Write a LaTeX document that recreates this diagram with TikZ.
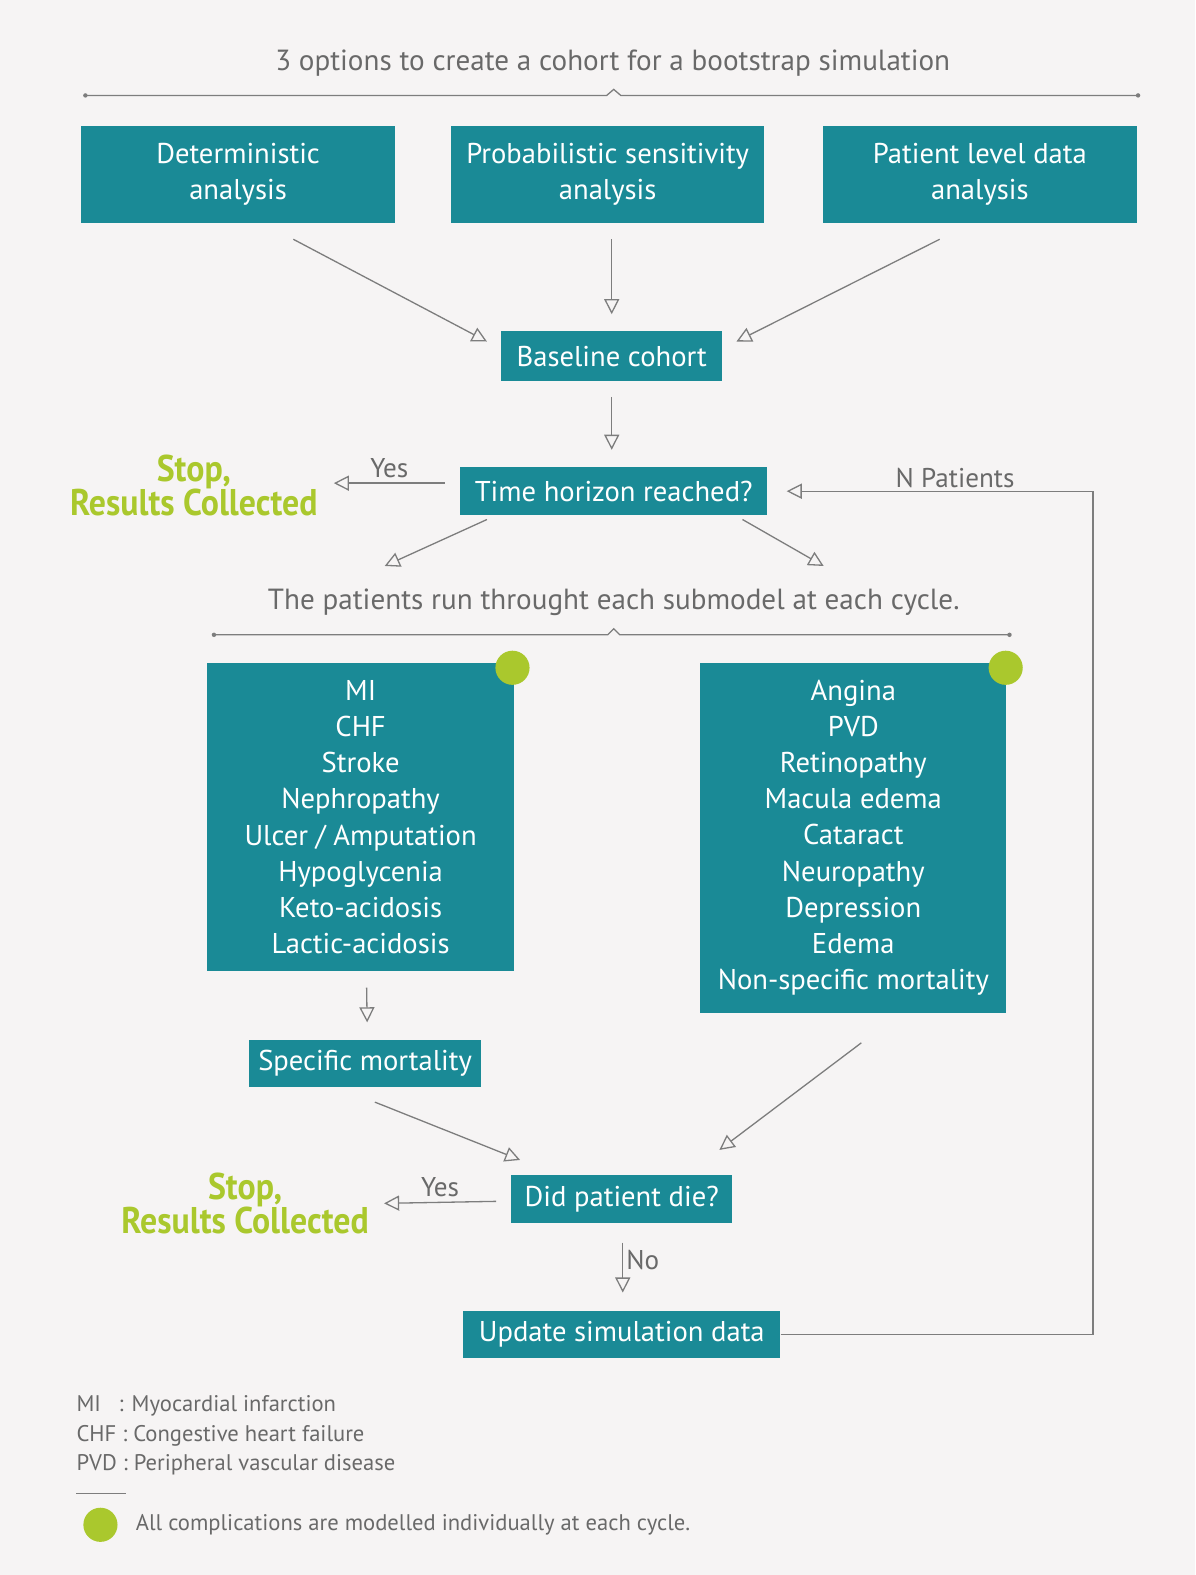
\documentclass[tikz,border=0pt]{standalone}
\usepackage{fontspec}
\setmainfont{PT Sans}
\usetikzlibrary{arrows.meta,calc}
\definecolor{tealbox}{RGB}{26,138,150}
\definecolor{lime}{RGB}{170,200,45}
\definecolor{bgc}{RGB}{246,244,244}
\definecolor{txtgray}{RGB}{105,105,105}
\definecolor{linegray}{RGB}{125,125,125}
\begin{document}
\begin{tikzpicture}[x=1pt,y=-1pt,
  box/.style={fill=tealbox, text=white, font=\fontsize{28.5}{36}\selectfont, align=center, inner sep=0pt},
  arr/.style={draw=linegray, line width=1.3pt, -{Triangle[open,length=15pt,width=15pt,line width=1.3pt]}},
  plain/.style={draw=linegray, line width=1.3pt},
  gtext/.style={text=txtgray, font=\fontsize{29}{32}\selectfont, inner sep=0pt},
  lbl/.style={text=txtgray, font=\fontsize{27}{30}\selectfont, inner sep=0pt},
  stoptext/.style={text=lime, font=\fontsize{37}{37}\selectfont\bfseries, align=center, inner sep=0pt},
  legend/.style={text=txtgray, font=\fontsize{22.5}{26}\selectfont, anchor=west, inner sep=0pt},
  dot/.style={fill=lime, draw=none}]
\useasboundingbox (0,0) rectangle (1190,1568);
\fill[bgc] (0,0) rectangle (1190,1568);

% title and brace
\node[gtext] (title) at (610,63) {3 options to create a cohort for a bootstrap simulation};
\draw[plain] (85,95) -- (604,95) -- (611,89) -- (618,95) -- (1133,95);
\fill[linegray] (85,95) circle (2.2) (1133,95) circle (2.2);

% top boxes
\node[box, minimum width=312, minimum height=97] (det) at (237,173.5) {Deterministic\\analysis};
\node[box, minimum width=312, minimum height=97] (prob) at (605,173.5) {Probabilistic sensitivity\\analysis};
\node[box, minimum width=313, minimum height=97] (pat) at (975.5,173.5) {Patient level data\\analysis};

\node[box, minimum width=220, minimum height=49] (base) at (609,354.5) {Baseline cohort};

\draw[arr] ($(det.south)+(55,16)$) -- ($(base.west)+(-14,-14.5)$);
\draw[arr] ($(prob.south)+(4,16)$) -- ($(base.north)+(0,-17)$);
\draw[arr] ($(pat.south)+(-40,16)$) -- ($(base.east)+(14,-14.5)$);

\node[box, minimum width=306, minimum height=48] (time) at (611,489) {Time horizon reached?};
\draw[arr] ($(base.south)+(0,16)$) -- ($(time.north)+(-2,-17)$);

\node[stoptext] (stop1) at (193,483) {\scalebox{0.91}[1]{Stop,}\\[-3pt]\scalebox{0.91}[1]{Results Collected}};
\draw[arr] ($(time.west)+(-15,-8)$) -- node[lbl, above=5pt] (yes1) {Yes} ($(stop1.east)+(16,-2)$);

% submodel text and brace
\node[gtext] (sub) at (611,600) {The patients run throught each submodel at each cycle.};
\draw[arr] ($(time.south west)+(27,4)$) -- ($(sub.north)+(-228,-23)$);
\draw[arr] ($(time.south east)+(-25,4)$) -- ($(sub.north)+(209,-23)$);
\draw[plain] (213,632) -- (605,632) -- (611,626) -- (617,632) -- (1005,632);
\fill[linegray] (213,632) circle (2.2) (1005,632) circle (2.2);

% big boxes
\node[box, minimum width=306, minimum height=307] (left) at (359,813.5) {MI\\CHF\\Stroke\\Nephropathy\\Ulcer / Amputation\\Hypoglycenia\\Keto-acidosis\\Lactic-acidosis};
\node[box, minimum width=305, minimum height=348] (right) at (849.5,834) {Angina\\PVD\\Retinopathy\\Macula edema\\Cataract\\Neuropathy\\Depression\\Edema\\Non-specific mortality};
\fill[dot] (left.north east) ++(-2,5) circle (17);
\fill[dot] (right.north east) ++(-1,5) circle (17);

\node[box, minimum width=231, minimum height=47] (spec) at (363.5,1058.5) {Specific mortality};
\draw[arr] ($(left.south)+(6,16)$) -- ($(spec.north)+(2,-17)$);

\node[box, minimum width=220, minimum height=48] (die) at (619,1194) {Did patient die?};
\draw[arr] ($(spec.south east)+(-106,15)$) -- ($(die.north west)+(9,-15)$);
\draw[arr] ($(right.south)+(8,30)$) -- ($(die.north east)+(-13,-25)$);

\node[stoptext] (stop2) at (244,1198) {\scalebox{0.91}[1]{Stop,}\\[-3pt]\scalebox{0.91}[1]{Results Collected}};
\draw[arr] ($(die.west)+(-15,2)$) -- node[lbl, above=5pt] (yes2) {Yes} ($(stop2.east)+(15,0)$);

\node[box, minimum width=316, minimum height=47] (upd) at (619,1328.5) {Update simulation data};
\draw[arr] ($(die.south)+(1,19)$) -- node[lbl, right=3pt, pos=0.35] (no) {No} ($(upd.north)+(1,-18)$);

% loop back
\coordinate (c1) at (1088,1328.5);
\coordinate (c2) at (1088,489);
\draw[arr] (upd.east) -- (c1) -- (c2) -- node[lbl, pos=0.45, above=3pt] (np) {N Patients} ($(time.east)+(19,0)$);

% legend
\node[legend] (l1) at (76,1400) {\makebox[42pt][l]{MI}: Myocardial infarction};
\node[legend] (l2) at (76,1429) {CHF : Congestive heart failure};
\node[legend] (l3) at (76,1458) {PVD : Peripheral vascular disease};
\draw[draw=linegray, line width=1.3pt] (76,1487) -- (125,1487);
\fill[dot] (100,1518) circle (17);
\node[legend] (l4) at (135,1518) {All complications are modelled individually at each cycle.};
\end{tikzpicture}
\end{document}
